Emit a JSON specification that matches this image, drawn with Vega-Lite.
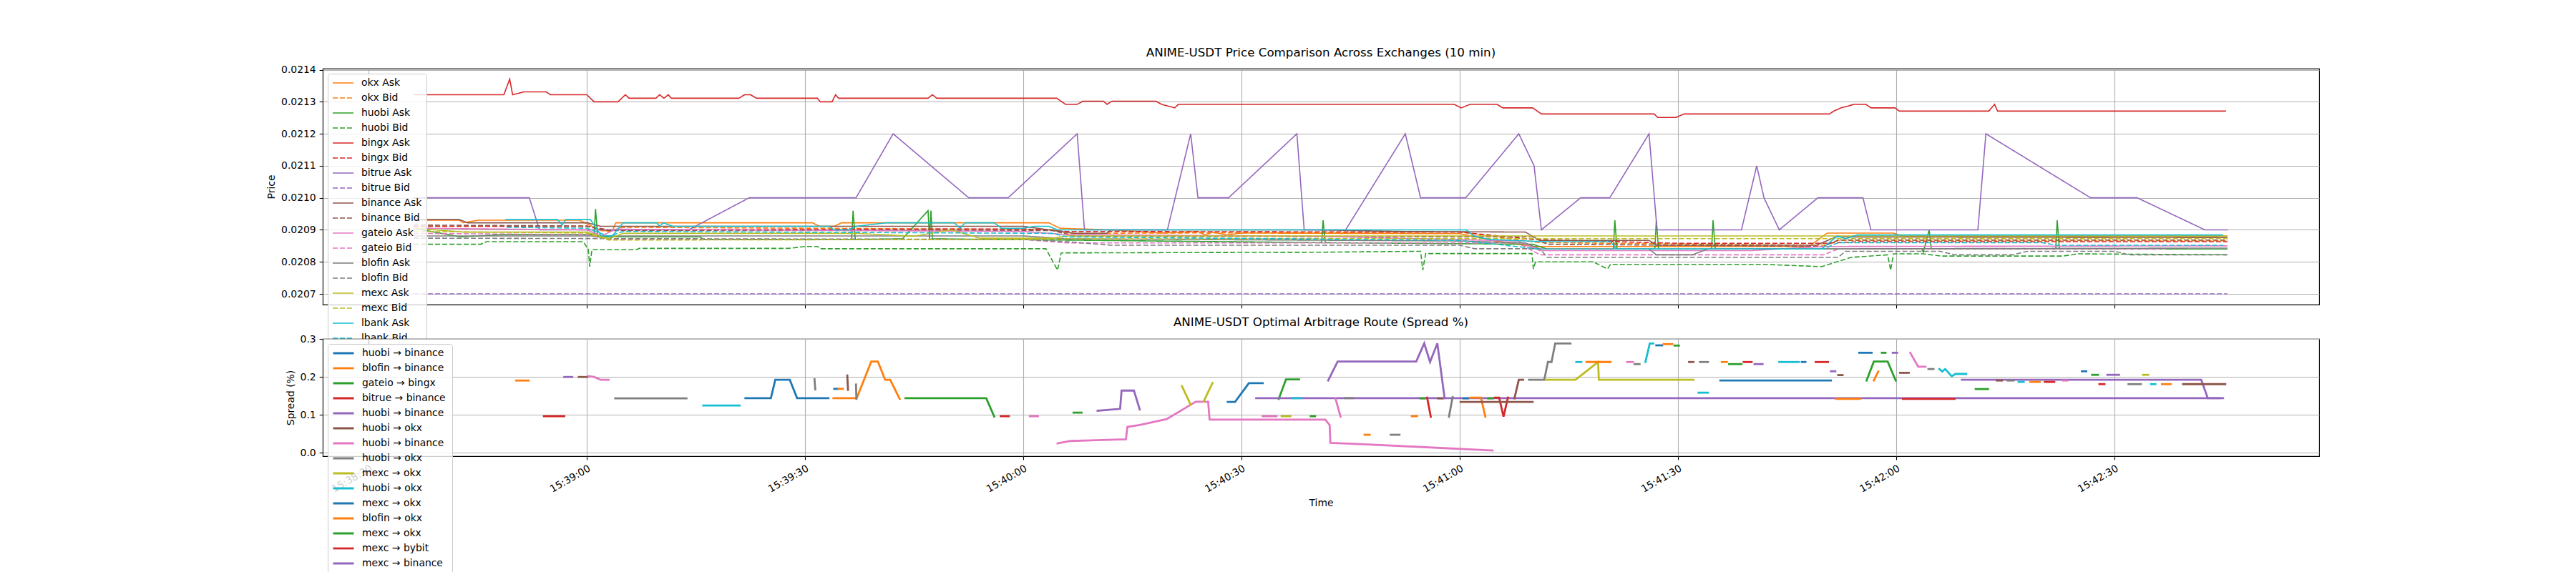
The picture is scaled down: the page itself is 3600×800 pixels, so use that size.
{
  "$schema": "https://vega.github.io/schema/vega-lite/v6.json",
  "background": "white",
  "padding": {"left": 372, "top": 65, "right": 5, "bottom": 5},
  "config": {
    "font": "DejaVu Sans",
    "view": {"stroke": "black", "strokeWidth": 1.1, "fill": "white"},
    "axis": {
      "labelFont": "DejaVu Sans", "labelFontSize": 13.9, "labelColor": "black",
      "titleFont": "DejaVu Sans", "titleFontSize": 13.9, "titleFontWeight": "normal", "titleColor": "black",
      "tickColor": "black", "tickSize": 4.9, "tickWidth": 1.1, "domain": false,
      "gridColor": "#b0b0b0", "gridWidth": 1.1, "gridOpacity": 1,
      "labelPadding": 4.9, "titlePadding": 5.6
    },
    "legend": {
      "orient": "top-left", "offset": 7, "title": null,
      "labelFont": "DejaVu Sans", "labelFontSize": 13.9, "labelColor": "black",
      "symbolType": "stroke", "symbolSize": 841, "labelOffset": 10, "rowPadding": 7, "clipHeight": 14,
      "fillColor": "rgba(255,255,255,0.8)", "strokeColor": "#cccccc", "cornerRadius": 3, "padding": 6
    },
    "title": {"font": "DejaVu Sans", "fontSize": 16.7, "fontWeight": "normal", "color": "black", "offset": 8}
  },
  "spacing": 48,
  "bounds": "flush",
  "resolve": {
    "scale": {"color": "independent", "strokeDash": "independent"},
    "legend": {"color": "independent", "strokeDash": "independent"}
  },
  "vconcat": [
    {
      "width": 2790,
      "height": 330,
      "title": "ANIME-USDT Price Comparison Across Exchanges (10 min)",
      "data": {
        "format": {"parse": {"t": "date:'%H:%M:%S.%L'"}},
        "values": [
          {"s":"okx Ask","t":"15:38:36.200","p":0.02093},{"s":"okx Ask","t":"15:38:42.500","p":0.02093},{"s":"okx Ask","t":"15:38:43.000","p":0.020922},{"s":"okx Ask","t":"15:38:45.000","p":0.02093},{"s":"okx Ask","t":"15:38:59.000","p":0.02093},{"s":"okx Ask","t":"15:39:02.000","p":0.020897},{"s":"okx Ask","t":"15:39:03.500","p":0.020897},{"s":"okx Ask","t":"15:39:04.000","p":0.020922},{"s":"okx Ask","t":"15:39:31.000","p":0.020922},{"s":"okx Ask","t":"15:39:32.000","p":0.020911},{"s":"okx Ask","t":"15:39:34.000","p":0.020911},{"s":"okx Ask","t":"15:39:35.000","p":0.020922},{"s":"okx Ask","t":"15:40:03.500","p":0.020922},{"s":"okx Ask","t":"15:40:05.000","p":0.020905},{"s":"okx Ask","t":"15:40:12.000","p":0.0209},{"s":"okx Ask","t":"15:40:19.000","p":0.02089},{"s":"okx Ask","t":"15:40:24.000","p":0.020895},{"s":"okx Ask","t":"15:40:25.000","p":0.020884},{"s":"okx Ask","t":"15:40:26.000","p":0.020893},{"s":"okx Ask","t":"15:40:28.000","p":0.020884},{"s":"okx Ask","t":"15:40:30.000","p":0.02089},{"s":"okx Ask","t":"15:41:00.000","p":0.020888},{"s":"okx Ask","t":"15:41:05.000","p":0.020865},{"s":"okx Ask","t":"15:41:10.000","p":0.020848},{"s":"okx Ask","t":"15:41:48.000","p":0.020848},{"s":"okx Ask","t":"15:41:50.500","p":0.02089},{"s":"okx Ask","t":"15:41:59.500","p":0.02089},{"s":"okx Ask","t":"15:42:01.000","p":0.02088},{"s":"okx Ask","t":"15:42:45.500","p":0.02088},
          {"s":"okx Bid","t":"15:38:36.200","p":0.020911},{"s":"okx Bid","t":"15:39:00.000","p":0.020911},{"s":"okx Bid","t":"15:39:03.000","p":0.020895},{"s":"okx Bid","t":"15:39:05.000","p":0.020908},{"s":"okx Bid","t":"15:40:04.000","p":0.020901},{"s":"okx Bid","t":"15:40:06.000","p":0.020889},{"s":"okx Bid","t":"15:41:00.000","p":0.020893},{"s":"okx Bid","t":"15:41:11.000","p":0.02086},{"s":"okx Bid","t":"15:41:50.000","p":0.020852},{"s":"okx Bid","t":"15:41:52.000","p":0.020867},{"s":"okx Bid","t":"15:42:45.500","p":0.020866},
          {"s":"huobi Ask","t":"15:38:36.200","p":0.020905},{"s":"huobi Ask","t":"15:38:42.600","p":0.020878},{"s":"huobi Ask","t":"15:38:48.600","p":0.020885},{"s":"huobi Ask","t":"15:39:01.000","p":0.020885},{"s":"huobi Ask","t":"15:39:01.200","p":0.020965},{"s":"huobi Ask","t":"15:39:01.500","p":0.020878},{"s":"huobi Ask","t":"15:39:15.600","p":0.020878},{"s":"huobi Ask","t":"15:39:16.000","p":0.02087},{"s":"huobi Ask","t":"15:39:36.400","p":0.02087},{"s":"huobi Ask","t":"15:39:36.600","p":0.02096},{"s":"huobi Ask","t":"15:39:36.900","p":0.02087},{"s":"huobi Ask","t":"15:39:43.400","p":0.020872},{"s":"huobi Ask","t":"15:39:46.900","p":0.02096},{"s":"huobi Ask","t":"15:39:47.100","p":0.020872},{"s":"huobi Ask","t":"15:39:47.300","p":0.02096},{"s":"huobi Ask","t":"15:39:47.500","p":0.020872},{"s":"huobi Ask","t":"15:40:41.000","p":0.02086},{"s":"huobi Ask","t":"15:40:41.200","p":0.02093},{"s":"huobi Ask","t":"15:40:41.500","p":0.02086},{"s":"huobi Ask","t":"15:41:10.000","p":0.020855},{"s":"huobi Ask","t":"15:41:12.000","p":0.02084},{"s":"huobi Ask","t":"15:41:21.100","p":0.02084},{"s":"huobi Ask","t":"15:41:21.300","p":0.02093},{"s":"huobi Ask","t":"15:41:21.600","p":0.02084},{"s":"huobi Ask","t":"15:41:26.800","p":0.02084},{"s":"huobi Ask","t":"15:41:27.000","p":0.02093},{"s":"huobi Ask","t":"15:41:27.300","p":0.02084},{"s":"huobi Ask","t":"15:41:34.600","p":0.02084},{"s":"huobi Ask","t":"15:41:34.800","p":0.02093},{"s":"huobi Ask","t":"15:41:35.100","p":0.02084},{"s":"huobi Ask","t":"15:42:03.500","p":0.02084},{"s":"huobi Ask","t":"15:42:03.700","p":0.02083},{"s":"huobi Ask","t":"15:42:04.500","p":0.0209},{"s":"huobi Ask","t":"15:42:04.800","p":0.02084},{"s":"huobi Ask","t":"15:42:21.900","p":0.02084},{"s":"huobi Ask","t":"15:42:22.100","p":0.02093},{"s":"huobi Ask","t":"15:42:22.400","p":0.02084},{"s":"huobi Ask","t":"15:42:45.500","p":0.02084},
          {"s":"huobi Bid","t":"15:38:36.200","p":0.020855},{"s":"huobi Bid","t":"15:38:45.400","p":0.020855},{"s":"huobi Bid","t":"15:38:46.200","p":0.020863},{"s":"huobi Bid","t":"15:38:59.500","p":0.020863},{"s":"huobi Bid","t":"15:39:00.200","p":0.02084},{"s":"huobi Bid","t":"15:39:00.400","p":0.020785},{"s":"huobi Bid","t":"15:39:00.700","p":0.020838},{"s":"huobi Bid","t":"15:39:06.800","p":0.020838},{"s":"huobi Bid","t":"15:39:07.200","p":0.020842},{"s":"huobi Bid","t":"15:39:27.700","p":0.020842},{"s":"huobi Bid","t":"15:39:30.000","p":0.020848},{"s":"huobi Bid","t":"15:39:31.700","p":0.020848},{"s":"huobi Bid","t":"15:39:32.100","p":0.020841},{"s":"huobi Bid","t":"15:40:03.100","p":0.020841},{"s":"huobi Bid","t":"15:40:04.700","p":0.020774},{"s":"huobi Bid","t":"15:40:05.200","p":0.020828},{"s":"huobi Bid","t":"15:40:40.000","p":0.02083},{"s":"huobi Bid","t":"15:40:54.600","p":0.020833},{"s":"huobi Bid","t":"15:40:54.900","p":0.020774},{"s":"huobi Bid","t":"15:40:55.300","p":0.020826},{"s":"huobi Bid","t":"15:41:09.900","p":0.020826},{"s":"huobi Bid","t":"15:41:10.100","p":0.020778},{"s":"huobi Bid","t":"15:41:10.400","p":0.0208},{"s":"huobi Bid","t":"15:41:18.300","p":0.0208},{"s":"huobi Bid","t":"15:41:20.300","p":0.020778},{"s":"huobi Bid","t":"15:41:20.700","p":0.020792},{"s":"huobi Bid","t":"15:41:42.000","p":0.020792},{"s":"huobi Bid","t":"15:41:49.700","p":0.020785},{"s":"huobi Bid","t":"15:41:53.800","p":0.020814},{"s":"huobi Bid","t":"15:41:58.800","p":0.020822},{"s":"huobi Bid","t":"15:41:59.200","p":0.020774},{"s":"huobi Bid","t":"15:41:59.600","p":0.020825},{"s":"huobi Bid","t":"15:42:03.700","p":0.020825},{"s":"huobi Bid","t":"15:42:06.200","p":0.020818},{"s":"huobi Bid","t":"15:42:22.800","p":0.020818},{"s":"huobi Bid","t":"15:42:25.000","p":0.020825},{"s":"huobi Bid","t":"15:42:45.500","p":0.020822},
          {"s":"bingx Ask","t":"15:38:36.200","p":0.021322},{"s":"bingx Ask","t":"15:38:48.600","p":0.021322},{"s":"bingx Ask","t":"15:38:49.400","p":0.021371},{"s":"bingx Ask","t":"15:38:49.800","p":0.021322},{"s":"bingx Ask","t":"15:38:51.400","p":0.021331},{"s":"bingx Ask","t":"15:38:54.400","p":0.021331},{"s":"bingx Ask","t":"15:38:55.000","p":0.021322},{"s":"bingx Ask","t":"15:39:00.000","p":0.021322},{"s":"bingx Ask","t":"15:39:01.000","p":0.0213},{"s":"bingx Ask","t":"15:39:04.300","p":0.0213},{"s":"bingx Ask","t":"15:39:04.800","p":0.021311},{"s":"bingx Ask","t":"15:39:05.300","p":0.021322},{"s":"bingx Ask","t":"15:39:05.800","p":0.021311},{"s":"bingx Ask","t":"15:39:09.500","p":0.021311},{"s":"bingx Ask","t":"15:39:10.000","p":0.021322},{"s":"bingx Ask","t":"15:39:10.600","p":0.021311},{"s":"bingx Ask","t":"15:39:11.200","p":0.021322},{"s":"bingx Ask","t":"15:39:11.600","p":0.021311},{"s":"bingx Ask","t":"15:39:20.900","p":0.021311},{"s":"bingx Ask","t":"15:39:21.700","p":0.021322},{"s":"bingx Ask","t":"15:39:22.500","p":0.021322},{"s":"bingx Ask","t":"15:39:23.300","p":0.021311},{"s":"bingx Ask","t":"15:39:31.700","p":0.021311},{"s":"bingx Ask","t":"15:39:32.100","p":0.0213},{"s":"bingx Ask","t":"15:39:33.700","p":0.0213},{"s":"bingx Ask","t":"15:39:34.200","p":0.021322},{"s":"bingx Ask","t":"15:39:34.600","p":0.021311},{"s":"bingx Ask","t":"15:39:46.900","p":0.021311},{"s":"bingx Ask","t":"15:39:47.500","p":0.021322},{"s":"bingx Ask","t":"15:39:48.100","p":0.021311},{"s":"bingx Ask","t":"15:40:04.600","p":0.021311},{"s":"bingx Ask","t":"15:40:05.800","p":0.021292},{"s":"bingx Ask","t":"15:40:07.400","p":0.021292},{"s":"bingx Ask","t":"15:40:08.200","p":0.021302},{"s":"bingx Ask","t":"15:40:11.000","p":0.021302},{"s":"bingx Ask","t":"15:40:11.500","p":0.021292},{"s":"bingx Ask","t":"15:40:12.200","p":0.021302},{"s":"bingx Ask","t":"15:40:18.200","p":0.021302},{"s":"bingx Ask","t":"15:40:19.000","p":0.021292},{"s":"bingx Ask","t":"15:40:20.800","p":0.021281},{"s":"bingx Ask","t":"15:40:21.300","p":0.021292},{"s":"bingx Ask","t":"15:40:59.200","p":0.021292},{"s":"bingx Ask","t":"15:41:00.200","p":0.021281},{"s":"bingx Ask","t":"15:41:01.400","p":0.021292},{"s":"bingx Ask","t":"15:41:05.100","p":0.021292},{"s":"bingx Ask","t":"15:41:05.900","p":0.021281},{"s":"bingx Ask","t":"15:41:10.000","p":0.021281},{"s":"bingx Ask","t":"15:41:11.200","p":0.021262},{"s":"bingx Ask","t":"15:41:26.700","p":0.021262},{"s":"bingx Ask","t":"15:41:27.200","p":0.021251},{"s":"bingx Ask","t":"15:41:29.700","p":0.021251},{"s":"bingx Ask","t":"15:41:30.800","p":0.021262},{"s":"bingx Ask","t":"15:41:50.800","p":0.021262},{"s":"bingx Ask","t":"15:41:51.400","p":0.021271},{"s":"bingx Ask","t":"15:41:52.400","p":0.021281},{"s":"bingx Ask","t":"15:41:54.200","p":0.021292},{"s":"bingx Ask","t":"15:41:55.800","p":0.021292},{"s":"bingx Ask","t":"15:41:56.500","p":0.021281},{"s":"bingx Ask","t":"15:41:59.800","p":0.021281},{"s":"bingx Ask","t":"15:42:00.400","p":0.021271},{"s":"bingx Ask","t":"15:42:12.700","p":0.021271},{"s":"bingx Ask","t":"15:42:13.500","p":0.021292},{"s":"bingx Ask","t":"15:42:13.900","p":0.021271},{"s":"bingx Ask","t":"15:42:45.300","p":0.021271},
          {"s":"bingx Bid","t":"15:38:36.200","p":0.020911},{"s":"bingx Bid","t":"15:39:00.000","p":0.020911},{"s":"bingx Bid","t":"15:39:03.000","p":0.0209},{"s":"bingx Bid","t":"15:40:00.000","p":0.020903},{"s":"bingx Bid","t":"15:40:06.000","p":0.020895},{"s":"bingx Bid","t":"15:41:00.000","p":0.020893},{"s":"bingx Bid","t":"15:41:10.000","p":0.02087},{"s":"bingx Bid","t":"15:41:30.000","p":0.020858},{"s":"bingx Bid","t":"15:41:50.000","p":0.020858},{"s":"bingx Bid","t":"15:41:55.000","p":0.020863},{"s":"bingx Bid","t":"15:42:45.500","p":0.020863},
          {"s":"bitrue Ask","t":"15:38:36.200","p":0.021},{"s":"bitrue Ask","t":"15:38:52.100","p":0.021},{"s":"bitrue Ask","t":"15:38:53.500","p":0.0209},{"s":"bitrue Ask","t":"15:39:14.000","p":0.0209},{"s":"bitrue Ask","t":"15:39:22.300","p":0.021},{"s":"bitrue Ask","t":"15:39:37.000","p":0.021},{"s":"bitrue Ask","t":"15:39:42.100","p":0.0212},{"s":"bitrue Ask","t":"15:39:52.500","p":0.021},{"s":"bitrue Ask","t":"15:39:57.900","p":0.021},{"s":"bitrue Ask","t":"15:40:07.400","p":0.0212},{"s":"bitrue Ask","t":"15:40:08.400","p":0.0209},{"s":"bitrue Ask","t":"15:40:19.800","p":0.0209},{"s":"bitrue Ask","t":"15:40:23.000","p":0.0212},{"s":"bitrue Ask","t":"15:40:24.000","p":0.021},{"s":"bitrue Ask","t":"15:40:28.200","p":0.021},{"s":"bitrue Ask","t":"15:40:37.600","p":0.0212},{"s":"bitrue Ask","t":"15:40:38.600","p":0.0209},{"s":"bitrue Ask","t":"15:40:44.300","p":0.0209},{"s":"bitrue Ask","t":"15:40:52.500","p":0.0212},{"s":"bitrue Ask","t":"15:40:54.600","p":0.021},{"s":"bitrue Ask","t":"15:41:00.800","p":0.021},{"s":"bitrue Ask","t":"15:41:08.100","p":0.0212},{"s":"bitrue Ask","t":"15:41:10.200","p":0.0211},{"s":"bitrue Ask","t":"15:41:11.200","p":0.0209},{"s":"bitrue Ask","t":"15:41:16.600","p":0.021},{"s":"bitrue Ask","t":"15:41:20.600","p":0.021},{"s":"bitrue Ask","t":"15:41:26.000","p":0.0212},{"s":"bitrue Ask","t":"15:41:27.100","p":0.0209},{"s":"bitrue Ask","t":"15:41:38.700","p":0.0209},{"s":"bitrue Ask","t":"15:41:40.800","p":0.0211},{"s":"bitrue Ask","t":"15:41:41.800","p":0.021},{"s":"bitrue Ask","t":"15:41:43.900","p":0.0209},{"s":"bitrue Ask","t":"15:41:49.200","p":0.021},{"s":"bitrue Ask","t":"15:41:55.400","p":0.021},{"s":"bitrue Ask","t":"15:41:56.500","p":0.0209},{"s":"bitrue Ask","t":"15:42:11.200","p":0.0209},{"s":"bitrue Ask","t":"15:42:12.300","p":0.0212},{"s":"bitrue Ask","t":"15:42:26.700","p":0.021},{"s":"bitrue Ask","t":"15:42:33.100","p":0.021},{"s":"bitrue Ask","t":"15:42:42.400","p":0.0209},{"s":"bitrue Ask","t":"15:42:45.600","p":0.0209},
          {"s":"bitrue Bid","t":"15:38:36.200","p":0.0207},{"s":"bitrue Bid","t":"15:42:45.500","p":0.0207},
          {"s":"binance Ask","t":"15:38:36.200","p":0.020932},{"s":"binance Ask","t":"15:38:42.500","p":0.020932},{"s":"binance Ask","t":"15:38:43.600","p":0.020922},{"s":"binance Ask","t":"15:39:00.100","p":0.020922},{"s":"binance Ask","t":"15:39:01.900","p":0.020911},{"s":"binance Ask","t":"15:40:00.000","p":0.020911},{"s":"binance Ask","t":"15:40:07.000","p":0.020889},{"s":"binance Ask","t":"15:40:11.500","p":0.020889},{"s":"binance Ask","t":"15:40:12.000","p":0.0209},{"s":"binance Ask","t":"15:40:40.000","p":0.0209},{"s":"binance Ask","t":"15:40:52.000","p":0.020895},{"s":"binance Ask","t":"15:41:09.000","p":0.020893},{"s":"binance Ask","t":"15:41:11.000","p":0.020867},{"s":"binance Ask","t":"15:41:26.000","p":0.020867},{"s":"binance Ask","t":"15:41:27.000","p":0.020852},{"s":"binance Ask","t":"15:41:49.000","p":0.020852},{"s":"binance Ask","t":"15:41:51.700","p":0.020878},{"s":"binance Ask","t":"15:42:45.500","p":0.020876},
          {"s":"binance Bid","t":"15:38:36.200","p":0.020915},{"s":"binance Bid","t":"15:39:00.000","p":0.020912},{"s":"binance Bid","t":"15:39:03.000","p":0.020898},{"s":"binance Bid","t":"15:40:04.000","p":0.020898},{"s":"binance Bid","t":"15:40:07.000","p":0.02088},{"s":"binance Bid","t":"15:41:10.000","p":0.020878},{"s":"binance Bid","t":"15:41:12.000","p":0.020855},{"s":"binance Bid","t":"15:41:50.000","p":0.020848},{"s":"binance Bid","t":"15:41:52.000","p":0.020868},{"s":"binance Bid","t":"15:42:45.500","p":0.020868},
          {"s":"gateio Ask","t":"15:38:36.200","p":0.020905},{"s":"gateio Ask","t":"15:39:00.000","p":0.0209},{"s":"gateio Ask","t":"15:39:02.000","p":0.020881},{"s":"gateio Ask","t":"15:39:04.000","p":0.020902},{"s":"gateio Ask","t":"15:40:00.000","p":0.020895},{"s":"gateio Ask","t":"15:40:06.000","p":0.020885},{"s":"gateio Ask","t":"15:40:40.000","p":0.02088},{"s":"gateio Ask","t":"15:41:08.000","p":0.020865},{"s":"gateio Ask","t":"15:41:11.000","p":0.020835},{"s":"gateio Ask","t":"15:41:40.000","p":0.020835},{"s":"gateio Ask","t":"15:41:50.000","p":0.020848},{"s":"gateio Ask","t":"15:42:45.500","p":0.02085},
          {"s":"gateio Bid","t":"15:38:36.200","p":0.020889},{"s":"gateio Bid","t":"15:39:00.000","p":0.020885},{"s":"gateio Bid","t":"15:39:03.000","p":0.02087},{"s":"gateio Bid","t":"15:40:00.000","p":0.02087},{"s":"gateio Bid","t":"15:40:06.000","p":0.020859},{"s":"gateio Bid","t":"15:41:08.000","p":0.020859},{"s":"gateio Bid","t":"15:41:11.000","p":0.020822},{"s":"gateio Bid","t":"15:41:50.000","p":0.020822},{"s":"gateio Bid","t":"15:41:52.000","p":0.02084},{"s":"gateio Bid","t":"15:42:37.000","p":0.02084},
          {"s":"blofin Ask","t":"15:38:36.200","p":0.020881},{"s":"blofin Ask","t":"15:40:00.000","p":0.020881},{"s":"blofin Ask","t":"15:40:06.000","p":0.020872},{"s":"blofin Ask","t":"15:41:00.000","p":0.020865},{"s":"blofin Ask","t":"15:41:09.000","p":0.020859},{"s":"blofin Ask","t":"15:41:11.000","p":0.02084},{"s":"blofin Ask","t":"15:41:26.000","p":0.02084},{"s":"blofin Ask","t":"15:41:27.000","p":0.020822},{"s":"blofin Ask","t":"15:41:32.000","p":0.020822},{"s":"blofin Ask","t":"15:41:34.000","p":0.02084},{"s":"blofin Ask","t":"15:42:45.500","p":0.020843},
          {"s":"blofin Bid","t":"15:38:36.200","p":0.020874},{"s":"blofin Bid","t":"15:40:00.000","p":0.02087},{"s":"blofin Bid","t":"15:40:06.000","p":0.020863},{"s":"blofin Bid","t":"15:40:12.000","p":0.020852},{"s":"blofin Bid","t":"15:41:00.000","p":0.020852},{"s":"blofin Bid","t":"15:41:02.000","p":0.020841},{"s":"blofin Bid","t":"15:41:11.000","p":0.020841},{"s":"blofin Bid","t":"15:41:12.000","p":0.020814},{"s":"blofin Bid","t":"15:41:52.000","p":0.020814},{"s":"blofin Bid","t":"15:41:53.000","p":0.020833},{"s":"blofin Bid","t":"15:42:06.000","p":0.020833},{"s":"blofin Bid","t":"15:42:08.000","p":0.020822},{"s":"blofin Bid","t":"15:42:16.000","p":0.020822},{"s":"blofin Bid","t":"15:42:18.000","p":0.020833},{"s":"blofin Bid","t":"15:42:30.000","p":0.020833},{"s":"blofin Bid","t":"15:42:32.000","p":0.020822},{"s":"blofin Bid","t":"15:42:45.500","p":0.020822},
          {"s":"mexc Ask","t":"15:38:36.200","p":0.020905},{"s":"mexc Ask","t":"15:38:43.000","p":0.020893},{"s":"mexc Ask","t":"15:39:00.000","p":0.020893},{"s":"mexc Ask","t":"15:39:03.000","p":0.020872},{"s":"mexc Ask","t":"15:39:05.000","p":0.020889},{"s":"mexc Ask","t":"15:39:37.000","p":0.020889},{"s":"mexc Ask","t":"15:39:45.000","p":0.02088},{"s":"mexc Ask","t":"15:39:50.000","p":0.0209},{"s":"mexc Ask","t":"15:39:54.000","p":0.020874},{"s":"mexc Ask","t":"15:40:04.000","p":0.020874},{"s":"mexc Ask","t":"15:40:06.000","p":0.020881},{"s":"mexc Ask","t":"15:42:45.500","p":0.020881},
          {"s":"mexc Bid","t":"15:38:36.200","p":0.020895},{"s":"mexc Bid","t":"15:39:00.000","p":0.02089},{"s":"mexc Bid","t":"15:39:03.000","p":0.020868},{"s":"mexc Bid","t":"15:40:00.000","p":0.02087},{"s":"mexc Bid","t":"15:40:06.000","p":0.020872},{"s":"mexc Bid","t":"15:42:45.500","p":0.020873},
          {"s":"lbank Ask","t":"15:38:48.800","p":0.020932},{"s":"lbank Ask","t":"15:38:56.000","p":0.020932},{"s":"lbank Ask","t":"15:38:56.600","p":0.020915},{"s":"lbank Ask","t":"15:38:57.100","p":0.020932},{"s":"lbank Ask","t":"15:39:00.500","p":0.020932},{"s":"lbank Ask","t":"15:39:02.000","p":0.020881},{"s":"lbank Ask","t":"15:39:03.500","p":0.020881},{"s":"lbank Ask","t":"15:39:05.000","p":0.020922},{"s":"lbank Ask","t":"15:39:09.600","p":0.020922},{"s":"lbank Ask","t":"15:39:10.000","p":0.020911},{"s":"lbank Ask","t":"15:39:10.500","p":0.020922},{"s":"lbank Ask","t":"15:39:11.800","p":0.020911},{"s":"lbank Ask","t":"15:39:33.300","p":0.020911},{"s":"lbank Ask","t":"15:39:34.000","p":0.0209},{"s":"lbank Ask","t":"15:39:36.000","p":0.0209},{"s":"lbank Ask","t":"15:39:37.000","p":0.020911},{"s":"lbank Ask","t":"15:39:41.200","p":0.020922},{"s":"lbank Ask","t":"15:39:50.500","p":0.020922},{"s":"lbank Ask","t":"15:39:51.300","p":0.020905},{"s":"lbank Ask","t":"15:39:52.000","p":0.020922},{"s":"lbank Ask","t":"15:39:56.000","p":0.020922},{"s":"lbank Ask","t":"15:39:57.000","p":0.020905},{"s":"lbank Ask","t":"15:40:00.000","p":0.020905},{"s":"lbank Ask","t":"15:40:01.500","p":0.020911},{"s":"lbank Ask","t":"15:40:03.500","p":0.020911},{"s":"lbank Ask","t":"15:40:04.700","p":0.0209},{"s":"lbank Ask","t":"15:41:00.900","p":0.0209},{"s":"lbank Ask","t":"15:41:01.900","p":0.020881},{"s":"lbank Ask","t":"15:41:04.000","p":0.02087},{"s":"lbank Ask","t":"15:41:11.500","p":0.020863},{"s":"lbank Ask","t":"15:41:20.700","p":0.020863},{"s":"lbank Ask","t":"15:41:21.500","p":0.02084},{"s":"lbank Ask","t":"15:41:49.700","p":0.02084},{"s":"lbank Ask","t":"15:41:51.900","p":0.020881},{"s":"lbank Ask","t":"15:41:53.000","p":0.020872},{"s":"lbank Ask","t":"15:41:54.600","p":0.020884},{"s":"lbank Ask","t":"15:42:44.900","p":0.020884},
          {"s":"lbank Bid","t":"15:38:49.000","p":0.020908},{"s":"lbank Bid","t":"15:39:00.000","p":0.020905},{"s":"lbank Bid","t":"15:39:03.000","p":0.02088},{"s":"lbank Bid","t":"15:39:05.000","p":0.020895},{"s":"lbank Bid","t":"15:40:04.000","p":0.020889},{"s":"lbank Bid","t":"15:40:06.000","p":0.020878},{"s":"lbank Bid","t":"15:41:00.000","p":0.020867},{"s":"lbank Bid","t":"15:41:11.000","p":0.02084},{"s":"lbank Bid","t":"15:41:50.000","p":0.02084},{"s":"lbank Bid","t":"15:41:52.000","p":0.02086},{"s":"lbank Bid","t":"15:42:20.000","p":0.02086},{"s":"lbank Bid","t":"15:42:22.000","p":0.020852},{"s":"lbank Bid","t":"15:42:44.900","p":0.020852}
        ]
      },
      "mark": {"type": "line", "strokeWidth": 1.6, "strokeCap": "butt"},
      "encoding": {
        "x": {
          "field": "t", "type": "temporal",
          "scale": {"domain": [
            {"year": 1900, "month": 1, "date": 1, "hours": 15, "minutes": 38, "seconds": 23, "milliseconds": 700},
            {"year": 1900, "month": 1, "date": 1, "hours": 15, "minutes": 42, "seconds": 58, "milliseconds": 100}
          ], "nice": false},
          "axis": {
            "title": null, "labels": false,
            "values": [
              {"year": 1900, "month": 1, "date": 1, "hours": 15, "minutes": 38, "seconds": 30},
              {"year": 1900, "month": 1, "date": 1, "hours": 15, "minutes": 39, "seconds": 0},
              {"year": 1900, "month": 1, "date": 1, "hours": 15, "minutes": 39, "seconds": 30},
              {"year": 1900, "month": 1, "date": 1, "hours": 15, "minutes": 40, "seconds": 0},
              {"year": 1900, "month": 1, "date": 1, "hours": 15, "minutes": 40, "seconds": 30},
              {"year": 1900, "month": 1, "date": 1, "hours": 15, "minutes": 41, "seconds": 0},
              {"year": 1900, "month": 1, "date": 1, "hours": 15, "minutes": 41, "seconds": 30},
              {"year": 1900, "month": 1, "date": 1, "hours": 15, "minutes": 42, "seconds": 0},
              {"year": 1900, "month": 1, "date": 1, "hours": 15, "minutes": 42, "seconds": 30}
            ]
          }
        },
        "y": {
          "field": "p", "type": "quantitative",
          "scale": {"domain": [0.0206665, 0.0214035], "zero": false, "nice": false},
          "axis": {"title": "Price", "values": [0.0207, 0.0208, 0.0209, 0.021, 0.0211, 0.0212, 0.0213, 0.0214], "format": ".4f"}
        },
        "color": {
          "field": "s", "type": "nominal",
          "scale": {
            "domain": ["okx Ask", "okx Bid", "huobi Ask", "huobi Bid", "bingx Ask", "bingx Bid", "bitrue Ask", "bitrue Bid", "binance Ask", "binance Bid", "gateio Ask", "gateio Bid", "blofin Ask", "blofin Bid", "mexc Ask", "mexc Bid", "lbank Ask", "lbank Bid"],
            "range": ["#ff7f0e", "#ff7f0e", "#2ca02c", "#2ca02c", "#d62728", "#d62728", "#9467bd", "#9467bd", "#8c564b", "#8c564b", "#e377c2", "#e377c2", "#7f7f7f", "#7f7f7f", "#bcbd22", "#bcbd22", "#17becf", "#17becf"]
          },
          "legend": {"title": null, "symbolStrokeWidth": 1.6}
        },
        "strokeDash": {
          "field": "s", "type": "nominal",
          "scale": {
            "domain": ["okx Ask", "okx Bid", "huobi Ask", "huobi Bid", "bingx Ask", "bingx Bid", "bitrue Ask", "bitrue Bid", "binance Ask", "binance Bid", "gateio Ask", "gateio Bid", "blofin Ask", "blofin Bid", "mexc Ask", "mexc Bid", "lbank Ask", "lbank Bid"],
            "range": [[1, 0], [7, 3], [1, 0], [7, 3], [1, 0], [7, 3], [1, 0], [7, 3], [1, 0], [7, 3], [1, 0], [7, 3], [1, 0], [7, 3], [1, 0], [7, 3], [1, 0], [7, 3]]
          },
          "legend": {"title": null, "symbolStrokeWidth": 1.6}
        }
      }
    },
    {
      "width": 2790,
      "height": 164,
      "title": "ANIME-USDT Optimal Arbitrage Route (Spread %)",
      "data": {
        "format": {"parse": {"t": "date:'%H:%M:%S.%L'"}},
        "values": [
          {"r":"02 blofin → binance","g":"b1","t":"15:38:50.300","v":0.1906},{"r":"02 blofin → binance","g":"b1","t":"15:38:52.000","v":0.1906},
          {"r":"04 bitrue → binance","g":"b2","t":"15:38:54.100","v":0.0962},{"r":"04 bitrue → binance","g":"b2","t":"15:38:56.900","v":0.0962},
          {"r":"05 huobi → binance","g":"b3","t":"15:38:56.900","v":0.2},{"r":"05 huobi → binance","g":"b3","t":"15:38:58.000","v":0.2},
          {"r":"06 huobi → okx","g":"b4","t":"15:38:58.900","v":0.2},{"r":"06 huobi → okx","g":"b4","t":"15:39:00.100","v":0.2},
          {"r":"07 huobi → binance","g":"b5","t":"15:39:00.200","v":0.202},{"r":"07 huobi → binance","g":"b5","t":"15:39:01.000","v":0.2},{"r":"07 huobi → binance","g":"b5","t":"15:39:01.900","v":0.1925},{"r":"07 huobi → binance","g":"b5","t":"15:39:03.000","v":0.1925},
          {"r":"08 huobi → okx","g":"b6","t":"15:39:03.900","v":0.1434},{"r":"08 huobi → okx","g":"b6","t":"15:39:13.700","v":0.1434},
          {"r":"10 huobi → okx","g":"b7","t":"15:39:16.000","v":0.1245},{"r":"10 huobi → okx","g":"b7","t":"15:39:21.000","v":0.1245},
          {"r":"01 huobi → binance","g":"b8","t":"15:39:21.800","v":0.144},{"r":"01 huobi → binance","g":"b8","t":"15:39:25.300","v":0.144},{"r":"01 huobi → binance","g":"b8","t":"15:39:25.900","v":0.1925},{"r":"01 huobi → binance","g":"b8","t":"15:39:27.900","v":0.1925},{"r":"01 huobi → binance","g":"b8","t":"15:39:28.900","v":0.144},{"r":"01 huobi → binance","g":"b8","t":"15:39:33.200","v":0.144},
          {"r":"08 huobi → okx","g":"b9","t":"15:39:31.300","v":0.194},{"r":"08 huobi → okx","g":"b9","t":"15:39:31.400","v":0.167},
          {"r":"01 huobi → binance","g":"b10","t":"15:39:34.000","v":0.1686},{"r":"01 huobi → binance","g":"b10","t":"15:39:34.600","v":0.1686},
          {"r":"02 blofin → binance","g":"b11","t":"15:39:34.600","v":0.1686},{"r":"02 blofin → binance","g":"b11","t":"15:39:35.200","v":0.1686},
          {"r":"06 huobi → okx","g":"b12","t":"15:39:35.800","v":0.204},{"r":"06 huobi → okx","g":"b12","t":"15:39:35.900","v":0.166},
          {"r":"02 blofin → binance","g":"b13","t":"15:39:33.900","v":0.144},{"r":"02 blofin → binance","g":"b13","t":"15:39:37.100","v":0.144},{"r":"02 blofin → binance","g":"b13","t":"15:39:39.100","v":0.2409},{"r":"02 blofin → binance","g":"b13","t":"15:39:40.000","v":0.2409},{"r":"02 blofin → binance","g":"b13","t":"15:39:41.000","v":0.1925},{"r":"02 blofin → binance","g":"b13","t":"15:39:41.700","v":0.1925},{"r":"02 blofin → binance","g":"b13","t":"15:39:43.000","v":0.142},
          {"r":"08 huobi → okx","g":"b14","t":"15:39:37.000","v":0.18},{"r":"08 huobi → okx","g":"b14","t":"15:39:37.050","v":0.142},
          {"r":"03 gateio → bingx","g":"b15","t":"15:39:43.800","v":0.144},{"r":"03 gateio → bingx","g":"b15","t":"15:39:54.900","v":0.144},{"r":"03 gateio → bingx","g":"b15","t":"15:39:56.000","v":0.095},
          {"r":"04 bitrue → binance","g":"b16","t":"15:39:56.900","v":0.0962},{"r":"04 bitrue → binance","g":"b16","t":"15:39:58.000","v":0.0962},
          {"r":"07 huobi → binance","g":"b17","t":"15:40:00.900","v":0.0962},{"r":"07 huobi → binance","g":"b17","t":"15:40:02.000","v":0.0962},
          {"r":"03 gateio → bingx","g":"b18","t":"15:40:06.900","v":0.1057},{"r":"03 gateio → bingx","g":"b18","t":"15:40:08.000","v":0.1057},
          {"r":"05 huobi → binance","g":"b19","t":"15:40:10.200","v":0.1106},{"r":"05 huobi → binance","g":"b19","t":"15:40:13.300","v":0.1157},{"r":"05 huobi → binance","g":"b19","t":"15:40:13.500","v":0.164},{"r":"05 huobi → binance","g":"b19","t":"15:40:15.200","v":0.164},{"r":"05 huobi → binance","g":"b19","t":"15:40:16.000","v":0.1138},
          {"r":"07 huobi → binance","g":"b20","t":"15:40:04.700","v":0.0245},{"r":"07 huobi → binance","g":"b20","t":"15:40:06.500","v":0.0308},{"r":"07 huobi → binance","g":"b20","t":"15:40:14.100","v":0.0352},{"r":"07 huobi → binance","g":"b20","t":"15:40:14.300","v":0.068},{"r":"07 huobi → binance","g":"b20","t":"15:40:16.000","v":0.073},{"r":"07 huobi → binance","g":"b20","t":"15:40:19.700","v":0.0887},{"r":"07 huobi → binance","g":"b20","t":"15:40:23.700","v":0.1346},{"r":"07 huobi → binance","g":"b20","t":"15:40:25.400","v":0.1346},{"r":"07 huobi → binance","g":"b20","t":"15:40:25.600","v":0.0874},{"r":"07 huobi → binance","g":"b20","t":"15:40:41.500","v":0.0874},{"r":"07 huobi → binance","g":"b20","t":"15:40:42.100","v":0.073},{"r":"07 huobi → binance","g":"b20","t":"15:40:42.200","v":0.0258},{"r":"07 huobi → binance","g":"b20","t":"15:40:46.300","v":0.0226},{"r":"07 huobi → binance","g":"b20","t":"15:41:04.500","v":0.0057},
          {"r":"09 mexc → okx","g":"b21","t":"15:40:21.800","v":0.1755},{"r":"09 mexc → okx","g":"b21","t":"15:40:23.000","v":0.1264},
          {"r":"09 mexc → okx","g":"b22","t":"15:40:24.800","v":0.1358},{"r":"09 mexc → okx","g":"b22","t":"15:40:26.000","v":0.184},
          {"r":"01 huobi → binance","g":"b23","t":"15:40:28.100","v":0.134},{"r":"01 huobi → binance","g":"b23","t":"15:40:29.100","v":0.134},{"r":"01 huobi → binance","g":"b23","t":"15:40:31.000","v":0.1836},{"r":"01 huobi → binance","g":"b23","t":"15:40:32.900","v":0.1836},
          {"r":"03 gateio → bingx","g":"b24","t":"15:40:35.100","v":0.142},{"r":"03 gateio → bingx","g":"b24","t":"15:40:36.100","v":0.1937},{"r":"03 gateio → bingx","g":"b24","t":"15:40:37.900","v":0.1937},
          {"r":"05 huobi → binance","g":"b25","t":"15:40:32.000","v":0.144},{"r":"05 huobi → binance","g":"b25","t":"15:42:44.500","v":0.144},
          {"r":"07 huobi → binance","g":"b26","t":"15:40:32.900","v":0.0962},{"r":"07 huobi → binance","g":"b26","t":"15:40:34.800","v":0.0962},
          {"r":"09 mexc → okx","g":"b27","t":"15:40:35.500","v":0.0962},{"r":"09 mexc → okx","g":"b27","t":"15:40:36.700","v":0.0962},
          {"r":"03 gateio → bingx","g":"b28","t":"15:40:39.500","v":0.0962},{"r":"03 gateio → bingx","g":"b28","t":"15:40:40.100","v":0.0962},
          {"r":"10 huobi → okx","g":"b29","t":"15:40:36.900","v":0.144},{"r":"10 huobi → okx","g":"b29","t":"15:40:38.200","v":0.144},
          {"r":"08 huobi → okx","g":"b30","t":"15:40:44.200","v":0.144},{"r":"08 huobi → okx","g":"b30","t":"15:40:45.300","v":0.144},
          {"r":"05 huobi → binance","g":"b31","t":"15:40:41.900","v":0.1906},{"r":"05 huobi → binance","g":"b31","t":"15:40:43.200","v":0.2409},{"r":"05 huobi → binance","g":"b31","t":"15:40:54.000","v":0.2409},{"r":"05 huobi → binance","g":"b31","t":"15:40:55.100","v":0.2887},{"r":"05 huobi → binance","g":"b31","t":"15:40:55.900","v":0.2396},{"r":"05 huobi → binance","g":"b31","t":"15:40:56.900","v":0.2887},{"r":"05 huobi → binance","g":"b31","t":"15:40:57.900","v":0.144},
          {"r":"07 huobi → binance","g":"b32","t":"15:40:42.900","v":0.1434},{"r":"07 huobi → binance","g":"b32","t":"15:40:43.600","v":0.095},
          {"r":"12 blofin → okx","g":"b33","t":"15:40:46.900","v":0.0472},{"r":"12 blofin → okx","g":"b33","t":"15:40:47.600","v":0.0472},
          {"r":"08 huobi → okx","g":"b34","t":"15:40:50.500","v":0.0472},{"r":"08 huobi → okx","g":"b34","t":"15:40:51.700","v":0.0472},
          {"r":"12 blofin → okx","g":"b35","t":"15:40:53.400","v":0.0962},{"r":"12 blofin → okx","g":"b35","t":"15:40:54.100","v":0.0962},
          {"r":"13 mexc → okx","g":"b36","t":"15:40:54.600","v":0.1434},{"r":"13 mexc → okx","g":"b36","t":"15:40:55.200","v":0.1434},
          {"r":"14 mexc → bybit","g":"b37","t":"15:40:55.500","v":0.1453},{"r":"14 mexc → bybit","g":"b37","t":"15:40:56.000","v":0.095},
          {"r":"06 huobi → okx","g":"b38","t":"15:40:57.000","v":0.1434},{"r":"06 huobi → okx","g":"b38","t":"15:40:57.600","v":0.1434},
          {"r":"18 blofin → bingx","g":"b39","t":"15:40:58.500","v":0.095},{"r":"18 blofin → bingx","g":"b39","t":"15:40:59.000","v":0.147},
          {"r":"11 mexc → okx","g":"b40","t":"15:41:00.500","v":0.1434},{"r":"11 mexc → okx","g":"b40","t":"15:41:01.100","v":0.1434},
          {"r":"12 blofin → okx","g":"b41","t":"15:41:01.500","v":0.1453},{"r":"12 blofin → okx","g":"b41","t":"15:41:02.900","v":0.1453},{"r":"12 blofin → okx","g":"b41","t":"15:41:03.500","v":0.095},
          {"r":"13 mexc → okx","g":"b42","t":"15:41:03.900","v":0.1434},{"r":"13 mexc → okx","g":"b42","t":"15:41:04.500","v":0.1434},
          {"r":"14 mexc → bybit","g":"b43","t":"15:41:04.800","v":0.1453},{"r":"14 mexc → bybit","g":"b43","t":"15:41:05.400","v":0.1453},{"r":"14 mexc → bybit","g":"b43","t":"15:41:06.000","v":0.095},{"r":"14 mexc → bybit","g":"b43","t":"15:41:06.600","v":0.1453},
          {"r":"16 gateio → okx","g":"b44","t":"15:41:00.100","v":0.134},{"r":"16 gateio → okx","g":"b44","t":"15:41:10.000","v":0.134},
          {"r":"06 huobi → okx","g":"b45","t":"15:41:07.500","v":0.1434},{"r":"06 huobi → okx","g":"b45","t":"15:41:08.100","v":0.1925},{"r":"06 huobi → okx","g":"b45","t":"15:41:08.700","v":0.1925},
          {"r":"08 huobi → okx","g":"b46","t":"15:41:09.500","v":0.1925},{"r":"08 huobi → okx","g":"b46","t":"15:41:11.600","v":0.1925},{"r":"08 huobi → okx","g":"b46","t":"15:41:12.100","v":0.2396},{"r":"08 huobi → okx","g":"b46","t":"15:41:12.600","v":0.2396},{"r":"08 huobi → okx","g":"b46","t":"15:41:13.100","v":0.2887},{"r":"08 huobi → okx","g":"b46","t":"15:41:15.200","v":0.2887},
          {"r":"09 mexc → okx","g":"b47","t":"15:41:11.800","v":0.1925},{"r":"09 mexc → okx","g":"b47","t":"15:41:15.900","v":0.1925},{"r":"09 mexc → okx","g":"b47","t":"15:41:19.000","v":0.2396},{"r":"09 mexc → okx","g":"b47","t":"15:41:19.100","v":0.1925},{"r":"09 mexc → okx","g":"b47","t":"15:41:32.100","v":0.1925},
          {"r":"02 blofin → binance","g":"b48","t":"15:41:17.400","v":0.2396},{"r":"02 blofin → binance","g":"b48","t":"15:41:20.700","v":0.2396},
          {"r":"10 huobi → okx","g":"b49","t":"15:41:16.000","v":0.2396},{"r":"10 huobi → okx","g":"b49","t":"15:41:16.700","v":0.2396},
          {"r":"07 huobi → binance","g":"b50","t":"15:41:23.000","v":0.2396},{"r":"07 huobi → binance","g":"b50","t":"15:41:23.800","v":0.2396},
          {"r":"18 blofin → bingx","g":"b51","t":"15:41:24.000","v":0.234},{"r":"18 blofin → bingx","g":"b51","t":"15:41:24.700","v":0.234},
          {"r":"10 huobi → okx","g":"b52","t":"15:41:25.500","v":0.2396},{"r":"10 huobi → okx","g":"b52","t":"15:41:26.100","v":0.2887},{"r":"10 huobi → okx","g":"b52","t":"15:41:26.600","v":0.2887},
          {"r":"01 huobi → binance","g":"b53","t":"15:41:27.000","v":0.2836},{"r":"01 huobi → binance","g":"b53","t":"15:41:27.800","v":0.2836},
          {"r":"12 blofin → okx","g":"b54","t":"15:41:28.000","v":0.2868},{"r":"12 blofin → okx","g":"b54","t":"15:41:29.200","v":0.2868},
          {"r":"03 gateio → bingx","g":"b55","t":"15:41:29.500","v":0.283},{"r":"03 gateio → bingx","g":"b55","t":"15:41:30.100","v":0.283},
          {"r":"06 huobi → okx","g":"b56","t":"15:41:31.500","v":0.2396},{"r":"06 huobi → okx","g":"b56","t":"15:41:32.100","v":0.2396},
          {"r":"08 huobi → okx","g":"b57","t":"15:41:33.000","v":0.2396},{"r":"08 huobi → okx","g":"b57","t":"15:41:34.100","v":0.2396},
          {"r":"02 blofin → binance","g":"b58","t":"15:41:36.000","v":0.2396},{"r":"02 blofin → binance","g":"b58","t":"15:41:36.700","v":0.2396},
          {"r":"13 mexc → okx","g":"b59","t":"15:41:37.000","v":0.234},{"r":"13 mexc → okx","g":"b59","t":"15:41:38.700","v":0.234},
          {"r":"04 bitrue → binance","g":"b60","t":"15:41:39.000","v":0.2396},{"r":"04 bitrue → binance","g":"b60","t":"15:41:40.100","v":0.2396},
          {"r":"15 mexc → binance","g":"b61","t":"15:41:40.500","v":0.234},{"r":"15 mexc → binance","g":"b61","t":"15:41:41.600","v":0.234},
          {"r":"10 huobi → okx","g":"b62","t":"15:41:43.900","v":0.2396},{"r":"10 huobi → okx","g":"b62","t":"15:41:46.600","v":0.2396},
          {"r":"11 mexc → okx","g":"b63","t":"15:41:47.000","v":0.2396},{"r":"11 mexc → okx","g":"b63","t":"15:41:47.500","v":0.2396},
          {"r":"14 mexc → bybit","g":"b64","t":"15:41:48.900","v":0.2396},{"r":"14 mexc → bybit","g":"b64","t":"15:41:50.600","v":0.2396},
          {"r":"01 huobi → binance","g":"b65","t":"15:41:35.800","v":0.1906},{"r":"01 huobi → binance","g":"b65","t":"15:41:51.000","v":0.1906},
          {"r":"20 gateio → binance","g":"b66","t":"15:41:32.800","v":0.1585},{"r":"20 gateio → binance","g":"b66","t":"15:41:34.100","v":0.1585},
          {"r":"15 mexc → binance","g":"b67","t":"15:41:51.000","v":0.215},{"r":"15 mexc → binance","g":"b67","t":"15:41:51.600","v":0.215},
          {"r":"16 gateio → okx","g":"b68","t":"15:41:52.000","v":0.205},{"r":"16 gateio → okx","g":"b68","t":"15:41:52.600","v":0.205},
          {"r":"02 blofin → binance","g":"b69","t":"15:41:51.700","v":0.142},{"r":"02 blofin → binance","g":"b69","t":"15:41:55.000","v":0.142},
          {"r":"11 mexc → okx","g":"b70","t":"15:41:54.900","v":0.264},{"r":"11 mexc → okx","g":"b70","t":"15:41:56.600","v":0.264},
          {"r":"03 gateio → bingx","g":"b71","t":"15:41:58.000","v":0.264},{"r":"03 gateio → bingx","g":"b71","t":"15:41:58.500","v":0.264},
          {"r":"05 huobi → binance","g":"b72","t":"15:41:59.500","v":0.264},{"r":"05 huobi → binance","g":"b72","t":"15:42:00.100","v":0.264},
          {"r":"13 mexc → okx","g":"b73","t":"15:41:55.900","v":0.1906},{"r":"13 mexc → okx","g":"b73","t":"15:41:56.900","v":0.2409},{"r":"13 mexc → okx","g":"b73","t":"15:41:58.800","v":0.2409},{"r":"13 mexc → okx","g":"b73","t":"15:41:59.900","v":0.1906},
          {"r":"12 blofin → okx","g":"b74","t":"15:41:56.900","v":0.1906},{"r":"12 blofin → okx","g":"b74","t":"15:41:57.500","v":0.2145},
          {"r":"07 huobi → binance","g":"b75","t":"15:42:01.900","v":0.264},{"r":"07 huobi → binance","g":"b75","t":"15:42:03.000","v":0.227},{"r":"07 huobi → binance","g":"b75","t":"15:42:04.000","v":0.227},
          {"r":"06 huobi → okx","g":"b76","t":"15:42:00.500","v":0.211},{"r":"06 huobi → okx","g":"b76","t":"15:42:01.700","v":0.211},
          {"r":"04 bitrue → binance","g":"b77","t":"15:42:00.900","v":0.142},{"r":"04 bitrue → binance","g":"b77","t":"15:42:08.000","v":0.142},
          {"r":"08 huobi → okx","g":"b78","t":"15:42:04.400","v":0.221},{"r":"08 huobi → okx","g":"b78","t":"15:42:05.100","v":0.221},
          {"r":"10 huobi → okx","g":"b79","t":"15:42:05.900","v":0.221},{"r":"10 huobi → okx","g":"b79","t":"15:42:06.300","v":0.2145},{"r":"10 huobi → okx","g":"b79","t":"15:42:06.700","v":0.221},{"r":"10 huobi → okx","g":"b79","t":"15:42:07.600","v":0.2019},{"r":"10 huobi → okx","g":"b79","t":"15:42:08.100","v":0.208},{"r":"10 huobi → okx","g":"b79","t":"15:42:09.600","v":0.208},
          {"r":"15 mexc → binance","g":"b80","t":"15:42:09.000","v":0.1925},{"r":"15 mexc → binance","g":"b80","t":"15:42:41.900","v":0.1925},{"r":"15 mexc → binance","g":"b80","t":"15:42:42.800","v":0.144},{"r":"15 mexc → binance","g":"b80","t":"15:42:44.900","v":0.144},
          {"r":"03 gateio → bingx","g":"b81","t":"15:42:10.900","v":0.168},{"r":"03 gateio → bingx","g":"b81","t":"15:42:12.600","v":0.168},
          {"r":"06 huobi → okx","g":"b82","t":"15:42:13.800","v":0.1906},{"r":"06 huobi → okx","g":"b82","t":"15:42:14.500","v":0.1906},
          {"r":"08 huobi → okx","g":"b83","t":"15:42:15.300","v":0.1906},{"r":"08 huobi → okx","g":"b83","t":"15:42:16.100","v":0.1906},
          {"r":"10 huobi → okx","g":"b84","t":"15:42:16.800","v":0.187},{"r":"10 huobi → okx","g":"b84","t":"15:42:17.500","v":0.187},
          {"r":"02 blofin → binance","g":"b85","t":"15:42:18.400","v":0.187},{"r":"02 blofin → binance","g":"b85","t":"15:42:19.700","v":0.187},
          {"r":"04 bitrue → binance","g":"b86","t":"15:42:20.400","v":0.187},{"r":"04 bitrue → binance","g":"b86","t":"15:42:21.700","v":0.187},
          {"r":"07 huobi → binance","g":"b87","t":"15:42:22.900","v":0.1906},{"r":"07 huobi → binance","g":"b87","t":"15:42:23.500","v":0.1906},
          {"r":"01 huobi → binance","g":"b88","t":"15:42:25.500","v":0.215},{"r":"01 huobi → binance","g":"b88","t":"15:42:26.100","v":0.215},
          {"r":"03 gateio → bingx","g":"b89","t":"15:42:26.900","v":0.2057},{"r":"03 gateio → bingx","g":"b89","t":"15:42:27.700","v":0.2057},
          {"r":"05 huobi → binance","g":"b90","t":"15:42:29.000","v":0.2057},{"r":"05 huobi → binance","g":"b90","t":"15:42:30.600","v":0.2057},
          {"r":"04 bitrue → binance","g":"b91","t":"15:42:27.900","v":0.181},{"r":"04 bitrue → binance","g":"b91","t":"15:42:28.600","v":0.181},
          {"r":"08 huobi → okx","g":"b92","t":"15:42:31.900","v":0.181},{"r":"08 huobi → okx","g":"b92","t":"15:42:33.600","v":0.181},
          {"r":"10 huobi → okx","g":"b93","t":"15:42:35.000","v":0.181},{"r":"10 huobi → okx","g":"b93","t":"15:42:35.600","v":0.181},
          {"r":"02 blofin → binance","g":"b94","t":"15:42:36.500","v":0.181},{"r":"02 blofin → binance","g":"b94","t":"15:42:37.700","v":0.181},
          {"r":"09 mexc → okx","g":"b95","t":"15:42:33.900","v":0.2057},{"r":"09 mexc → okx","g":"b95","t":"15:42:34.600","v":0.2057},
          {"r":"06 huobi → okx","g":"b96","t":"15:42:39.400","v":0.181},{"r":"06 huobi → okx","g":"b96","t":"15:42:45.200","v":0.181}
        ]
      },
      "mark": {"type": "line", "strokeWidth": 2.8, "strokeCap": "square"},
      "encoding": {
        "x": {
          "field": "t", "type": "temporal",
          "scale": {"domain": [
            {"year": 1900, "month": 1, "date": 1, "hours": 15, "minutes": 38, "seconds": 23, "milliseconds": 700},
            {"year": 1900, "month": 1, "date": 1, "hours": 15, "minutes": 42, "seconds": 58, "milliseconds": 100}
          ], "nice": false},
          "axis": {
            "title": "Time", "format": "%H:%M:%S", "labelAngle": -30, "labelAlign": "right", "labelBaseline": "top",
            "values": [
              {"year": 1900, "month": 1, "date": 1, "hours": 15, "minutes": 38, "seconds": 30},
              {"year": 1900, "month": 1, "date": 1, "hours": 15, "minutes": 39, "seconds": 0},
              {"year": 1900, "month": 1, "date": 1, "hours": 15, "minutes": 39, "seconds": 30},
              {"year": 1900, "month": 1, "date": 1, "hours": 15, "minutes": 40, "seconds": 0},
              {"year": 1900, "month": 1, "date": 1, "hours": 15, "minutes": 40, "seconds": 30},
              {"year": 1900, "month": 1, "date": 1, "hours": 15, "minutes": 41, "seconds": 0},
              {"year": 1900, "month": 1, "date": 1, "hours": 15, "minutes": 41, "seconds": 30},
              {"year": 1900, "month": 1, "date": 1, "hours": 15, "minutes": 42, "seconds": 0},
              {"year": 1900, "month": 1, "date": 1, "hours": 15, "minutes": 42, "seconds": 30}
            ]
          }
        },
        "y": {
          "field": "v", "type": "quantitative",
          "scale": {"domain": [-0.0094, 0.3006], "zero": false, "nice": false},
          "axis": {"title": "Spread (%)", "values": [0, 0.1, 0.2, 0.3], "format": ".1f"}
        },
        "detail": {"field": "g", "type": "nominal"},
        "color": {
          "field": "r", "type": "nominal",
          "scale": {
            "domain": ["01 huobi → binance", "02 blofin → binance", "03 gateio → bingx", "04 bitrue → binance", "05 huobi → binance", "06 huobi → okx", "07 huobi → binance", "08 huobi → okx", "09 mexc → okx", "10 huobi → okx", "11 mexc → okx", "12 blofin → okx", "13 mexc → okx", "14 mexc → bybit", "15 mexc → binance", "16 gateio → okx", "17 mexc → bingx", "18 blofin → bingx", "19 lbank → okx", "20 gateio → binance"],
            "range": ["#1f77b4", "#ff7f0e", "#2ca02c", "#d62728", "#9467bd", "#8c564b", "#e377c2", "#7f7f7f", "#bcbd22", "#17becf", "#1f77b4", "#ff7f0e", "#2ca02c", "#d62728", "#9467bd", "#8c564b", "#e377c2", "#7f7f7f", "#bcbd22", "#17becf"]
          },
          "legend": {"title": null, "symbolStrokeWidth": 2.8, "labelExpr": "substring(datum.label, 3)"}
        }
      }
    }
  ]
}
